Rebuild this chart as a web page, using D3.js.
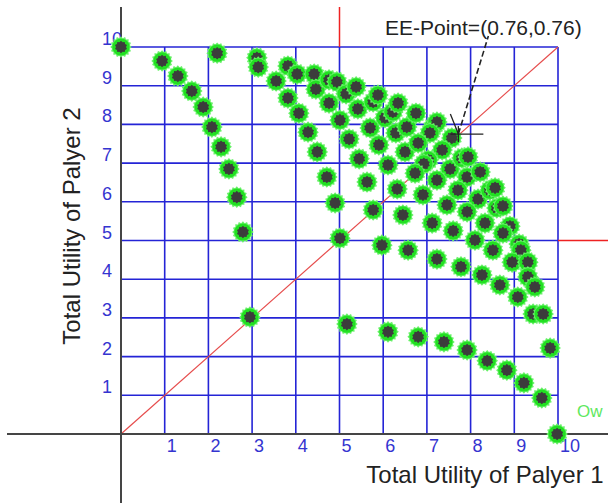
<!DOCTYPE html>
<html>
<head>
<meta charset="utf-8">
<script src="https://cdn.jsdelivr.net/npm/d3@7"></script>
<style>
    html, body { margin: 0; padding: 0; background: #fff; }
    svg { display: block; }
    text { font-family: "Liberation Sans", Arial, sans-serif; }
</style>
</head>
<body>
<svg id="chart" width="608" height="503"></svg>
<script>
(function(window) {
    'use strict';

    /******************************************************************
        data (utility of player 1, utility of player 2)
     ******************************************************************/
    var xTicks = [1, 2, 3, 4, 5, 6, 7, 8, 9, 10];
    var yTicks = [1, 2, 3, 4, 5, 6, 7, 8, 9, 10];

    var util1 = [
        0.00, 0.94, 1.30, 1.62, 1.88, 2.08, 2.29, 2.47, 2.65, 2.79,
        2.20, 3.11, 3.14, 3.55, 3.82, 4.07, 4.28, 4.49, 4.71, 4.90,
        5.01, 2.95, 5.17, 6.11, 6.80, 7.39, 7.92, 8.38, 8.83, 9.22,
        9.63, 9.98, 9.82, 3.82, 4.03, 4.42, 4.46, 4.76, 4.94, 4.76,
        5.01, 5.22, 5.45, 5.63, 5.77, 5.97, 5.15, 5.38, 5.42, 5.70,
        5.90, 6.11, 6.32, 6.45, 6.57, 5.77, 5.88, 6.04, 6.22, 6.34,
        6.29, 6.54, 6.50, 6.75, 7.14, 7.23, 7.07, 6.80, 7.57, 7.35,
        7.03, 6.93, 7.53, 7.80, 7.94, 6.73, 7.23, 7.92, 8.22, 7.71,
        6.91, 8.17, 8.44, 8.56, 7.46, 7.92, 8.60, 8.74, 7.12, 8.33,
        8.90, 7.60, 8.10, 8.74, 9.11, 9.15, 7.23, 8.51, 8.95, 9.31,
        7.78, 8.26, 9.31, 8.67, 9.47, 9.08, 9.43, 9.66
    ];
    var util2 = [
        10.0, 9.64, 9.25, 8.86, 8.45, 7.93, 7.42, 6.85, 6.12, 5.22,
        9.84, 9.72, 9.48, 9.12, 8.68, 8.29, 7.80, 7.29, 6.64, 5.97,
        5.06, 3.02, 2.84, 2.64, 2.51, 2.38, 2.17, 1.89, 1.65, 1.32,
        0.93, 0.00, 2.22, 9.51, 9.30, 9.30, 8.91, 9.15, 9.10, 8.55,
        8.11, 7.62, 7.11, 6.51, 5.79, 4.88, 8.79, 8.97, 8.40, 7.91,
        7.47, 6.95, 6.33, 5.66, 4.75, 8.58, 8.76, 8.17, 8.32, 8.55,
        7.78, 7.93, 7.29, 8.29, 7.93, 8.06, 7.78, 7.52, 7.65, 7.34,
        7.08, 6.98, 6.85, 7.13, 7.16, 6.74, 6.56, 6.64, 6.77, 6.30,
        6.18, 6.07, 6.30, 6.36, 5.92, 5.74, 5.84, 5.89, 5.45, 5.45,
        5.37, 5.25, 5.01, 5.19, 4.91, 4.75, 4.52, 4.75, 4.44, 4.44,
        4.32, 4.11, 4.06, 3.85, 3.80, 3.54, 3.10, 3.10
    ];

    var eePoint = [7.72, 7.75];
    var eeLabel = 'EE-Point=(0.76,0.76)';

    /******************************************************************
        scales
     ******************************************************************/
    var W = 608, H = 503;
    var x = d3.scaleLinear().domain([0, 10]).range([121, 558]);
    var y = d3.scaleLinear().domain([0, 10]).range([434, 47]);

    var svg = d3.select('#chart');
    svg.append('rect').attr('width', W).attr('height', H).attr('fill', '#fff');

    var BLUE = '#2424d6';

    /******************************************************************
        grid
     ******************************************************************/
    var grid = svg.append('g').attr('stroke', BLUE).attr('stroke-width', 1.6);

    grid.selectAll('line.v').data(xTicks).enter().append('line')
        .attr('class', 'v')
        .attr('x1', function(d) { return x(d); })
        .attr('x2', function(d) { return x(d); })
        .attr('y1', y(0))
        .attr('y2', y(10));

    grid.selectAll('line.h').data(yTicks).enter().append('line')
        .attr('class', 'h')
        .attr('x1', x(0))
        .attr('x2', x(10))
        .attr('y1', function(d) { return y(d); })
        .attr('y2', function(d) { return y(d); });

    // red guide lines
    svg.append('line')
        .attr('x1', x(0)).attr('y1', y(0))
        .attr('x2', x(10)).attr('y2', y(10))
        .attr('stroke', '#e64c4c').attr('stroke-width', 1.2);

    svg.append('line')
        .attr('x1', x(5)).attr('x2', x(5))
        .attr('y1', 7).attr('y2', y(10))
        .attr('stroke', '#ee2222').attr('stroke-width', 1.5);

    svg.append('line')
        .attr('x1', x(10)).attr('x2', W)
        .attr('y1', y(5)).attr('y2', y(5))
        .attr('stroke', '#ee2222').attr('stroke-width', 1.5);

    // black axes
    svg.append('line')
        .attr('x1', 7).attr('x2', W)
        .attr('y1', y(0)).attr('y2', y(0))
        .attr('stroke', '#454545').attr('stroke-width', 2);

    svg.append('line')
        .attr('x1', x(0)).attr('x2', x(0))
        .attr('y1', 7).attr('y2', H)
        .attr('stroke', '#454545').attr('stroke-width', 2);

    /******************************************************************
        tick labels
     ******************************************************************/
    svg.selectAll('text.xt').data(xTicks).enter().append('text')
        .attr('class', 'xt')
        .attr('x', function(d) { return x(d) + 2; })
        .attr('y', y(0) + 18)
        .attr('fill', '#3434d0')
        .style('font-size', '18px')
        .text(function(d) { return d; });

    svg.selectAll('text.yt').data(yTicks).enter().append('text')
        .attr('class', 'yt')
        .attr('x', 102)
        .attr('y', function(d) { return y(d) - 2; })
        .attr('fill', '#3434d0')
        .style('font-size', '18px')
        .text(function(d) { return d; });

    /******************************************************************
        points
     ******************************************************************/
    var pts = util1.map(function(v, i) { return [v, util2[i]]; });

    var spiky = d3.lineRadial().curve(d3.curveLinearClosed);
    function star(n, r0, r1) {
        var p = [];
        for (var i = 0; i < n * 2; i++) {
            p.push([i * Math.PI / n, i % 2 ? r0 : r1]);
        }
        return spiky(p);
    }

    var dot = svg.selectAll('g.pt').data(pts).enter().append('g')
        .attr('class', 'pt')
        .attr('transform', function(d) { return 'translate(' + x(d[0]) + ',' + y(d[1]) + ')'; });

    dot.append('path').attr('d', star(16, 9, 10.8)).attr('fill', '#66f066');
    dot.append('circle').attr('r', 8.6).attr('fill', '#22e022');
    dot.append('path').attr('d', star(10, 5, 6.3)).attr('fill', '#3c3c3c');

    /******************************************************************
        EE-point annotation
     ******************************************************************/
    var ex = x(eePoint[0]), ey = y(eePoint[1]);
    var ann = svg.append('g').attr('stroke', '#222').attr('fill', 'none');

    ann.append('line')
        .attr('x1', ex).attr('y1', ey)
        .attr('x2', ex + 30).attr('y2', 36)
        .attr('stroke-width', 1.6)
        .attr('stroke-dasharray', '6,3');
    ann.append('line')
        .attr('x1', ex).attr('y1', ey)
        .attr('x2', ex - 8).attr('y2', ey - 20)
        .attr('stroke-width', 1.3);
    ann.append('line')
        .attr('x1', ex - 8).attr('y1', ey)
        .attr('x2', ex + 25).attr('y2', ey)
        .attr('stroke-width', 1.3);
    ann.append('line')
        .attr('x1', ex).attr('y1', ey - 8)
        .attr('x2', ex).attr('y2', ey + 8)
        .attr('stroke-width', 1.3);

    svg.append('text')
        .attr('x', 385).attr('y', 35)
        .attr('fill', '#222')
        .style('font-size', '21px')
        .text(eeLabel);

    /******************************************************************
        titles
     ******************************************************************/
    svg.append('text')
        .attr('x', 485).attr('y', 483)
        .attr('text-anchor', 'middle')
        .attr('fill', '#222')
        .style('font-size', '24px')
        .text('Total Utility of Palyer 1');

    svg.append('text')
        .attr('transform', 'translate(80,226) rotate(-90)')
        .attr('text-anchor', 'middle')
        .attr('fill', '#222')
        .style('font-size', '24px')
        .text('Total Utility of Palyer 2');

    svg.append('text')
        .attr('x', 577).attr('y', 417)
        .attr('fill', '#5fe85f')
        .style('font-size', '17px')
        .text('Ow');

})(window);
</script>
</body>
</html>
